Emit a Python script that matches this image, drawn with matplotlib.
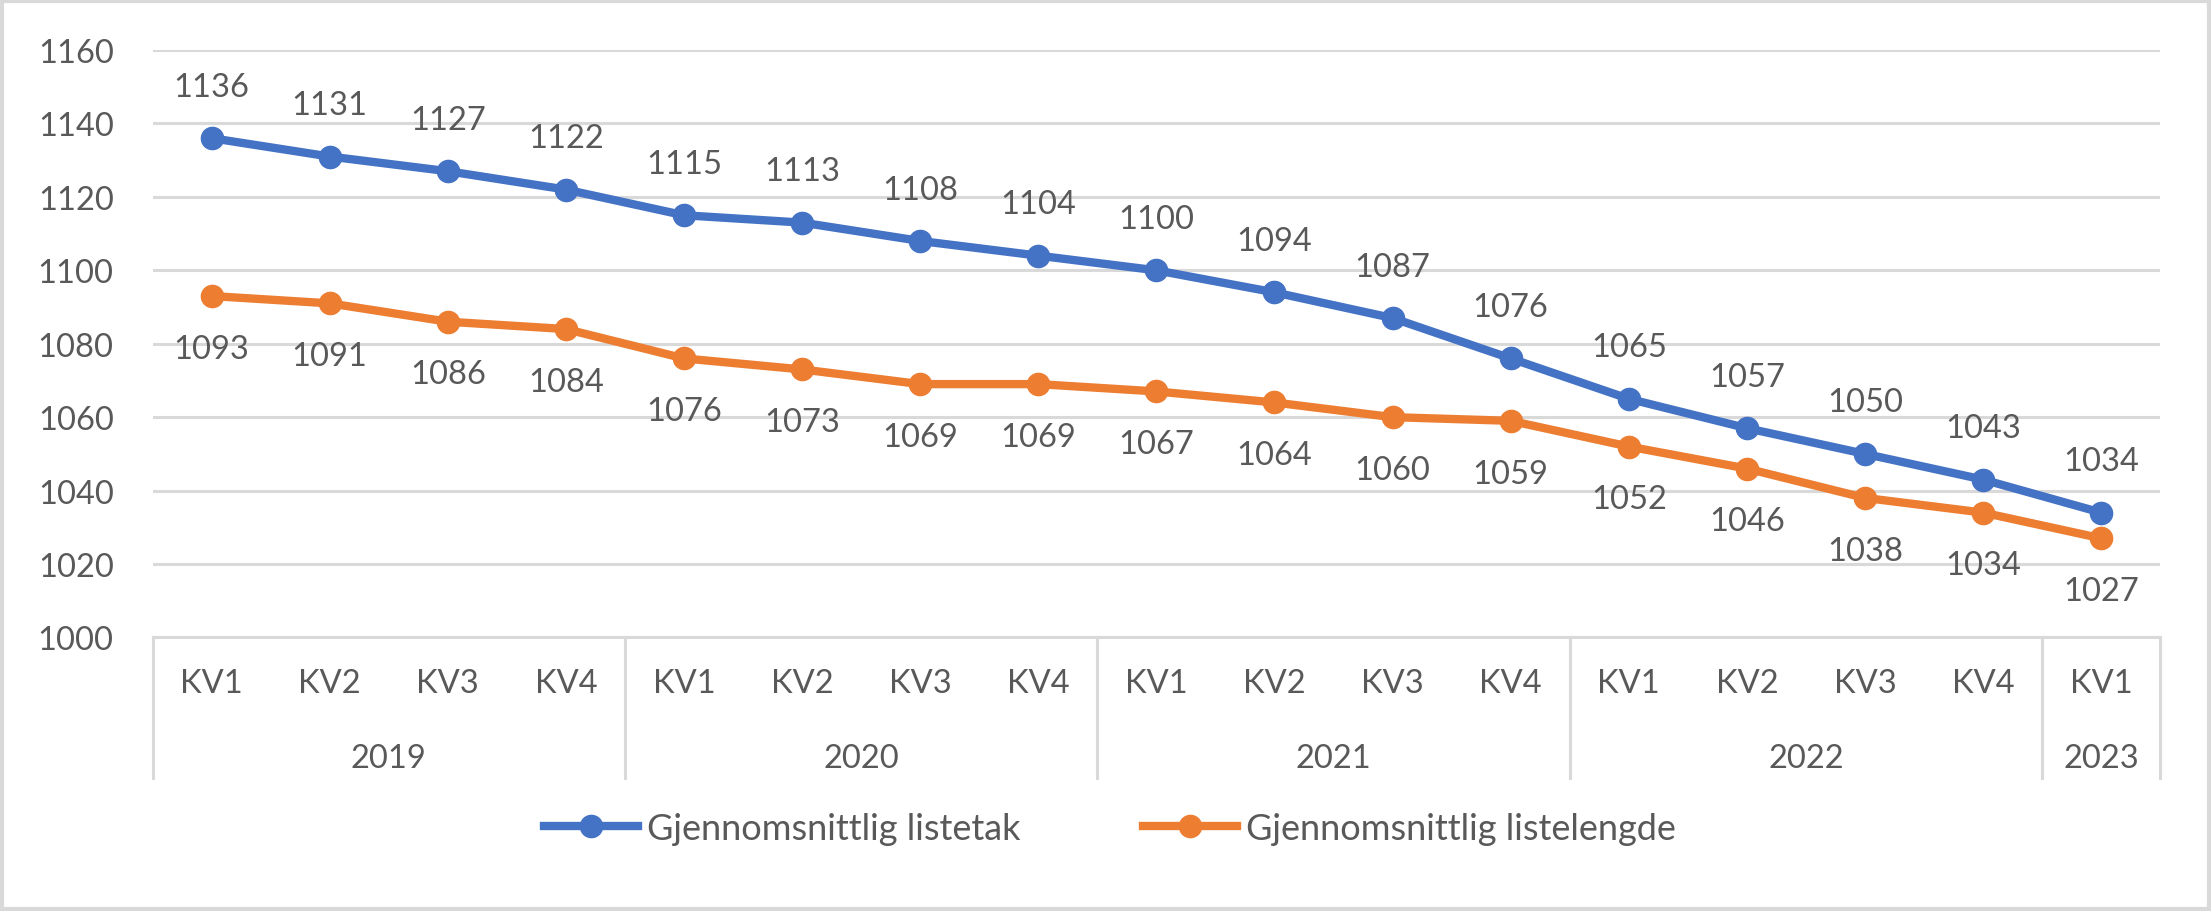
import numpy as np
import matplotlib
matplotlib.use("Agg")
import matplotlib.pyplot as plt
from matplotlib.lines import Line2D
from matplotlib.patches import Rectangle

plt.rcParams['font.family'] = ['Lato', 'DejaVu Sans']

quarters = ['KV1', 'KV2', 'KV3', 'KV4'] * 4 + ['KV1']
years = ['2019', '2020', '2021', '2022', '2023']
year_sizes = [4, 4, 4, 4, 1]
listetak = [1136, 1131, 1127, 1122, 1115, 1113, 1108, 1104, 1100,
            1094, 1087, 1076, 1065, 1057, 1050, 1043, 1034]
listelengde = [1093, 1091, 1086, 1084, 1076, 1073, 1069, 1069, 1067,
               1064, 1060, 1059, 1052, 1046, 1038, 1034, 1027]
series_names = ['Gjennomsnittlig listetak', 'Gjennomsnittlig listelengde']

blue = '#4472C4'
orange = '#ED7D31'
grid_c = '#D9D9D9'
txt_c = '#595959'
fs = 23.5

fig = plt.figure(figsize=(22.11, 9.12), dpi=100)
ax = fig.add_axes([0.069, 0.300, 0.908, 0.644])

x = np.arange(len(quarters))
ax.plot(x, listetak, color=blue, lw=6, marker='o', ms=16, zorder=3,
        solid_capstyle='round')
ax.plot(x, listelengde, color=orange, lw=6, marker='o', ms=16, zorder=3,
        solid_capstyle='round')

for xi, v in zip(x, listetak):
    ax.annotate(str(v), (xi, v), xytext=(0, 37), textcoords='offset points',
                ha='center', va='center', fontsize=fs, color=txt_c)
for xi, v in zip(x, listelengde):
    ax.annotate(str(v), (xi, v), xytext=(0, -38), textcoords='offset points',
                ha='center', va='center', fontsize=fs, color=txt_c)

ax.set_xlim(-0.5, len(quarters) - 0.5)
ax.set_ylim(1000, 1160)
ax.set_yticks(range(1000, 1161, 20))
ax.yaxis.grid(True, color=grid_c, lw=2.2)
ax.set_axisbelow(True)
for s in ['top', 'right', 'left']:
    ax.spines[s].set_visible(False)
ax.spines['bottom'].set_color(grid_c)
ax.spines['bottom'].set_linewidth(2.2)
ax.tick_params(axis='y', length=0, pad=28, labelsize=fs, labelcolor=txt_c)
ax.set_xticks(x)
ax.set_xticklabels(quarters)
ax.tick_params(axis='x', length=0, pad=22, labelsize=fs, labelcolor=txt_c)

# year groups below the quarter labels
tr = ax.get_xaxis_transform()
start = 0
bounds = [-0.5]
for yr, n in zip(years, year_sizes):
    mid = start + (n - 1) / 2
    ax.text(mid, -0.205, yr, transform=tr, ha='center', va='center',
            fontsize=fs, color=txt_c)
    start += n
    bounds.append(start - 0.5)
for b in bounds:
    ax.plot([b, b], [0, -0.24], transform=tr, color=grid_c, lw=2.2,
            clip_on=False)

handles = [Line2D([], [], color=blue, lw=6, marker='o', ms=16),
           Line2D([], [], color=orange, lw=6, marker='o', ms=16)]
leg = fig.legend(handles, series_names, loc='center', ncol=2,
                 bbox_to_anchor=(0.502, 0.091), frameon=False, fontsize=26,
                 handlelength=2.6, columnspacing=3.4, handletextpad=0.25)
for t in leg.get_texts():
    t.set_color(txt_c)

fig.patches.append(Rectangle((0.001, 0.002), 0.998, 0.996,
                             transform=fig.transFigure, fill=False,
                             edgecolor=grid_c, lw=3))

fig.savefig('out.png', dpi=100, facecolor='white')
